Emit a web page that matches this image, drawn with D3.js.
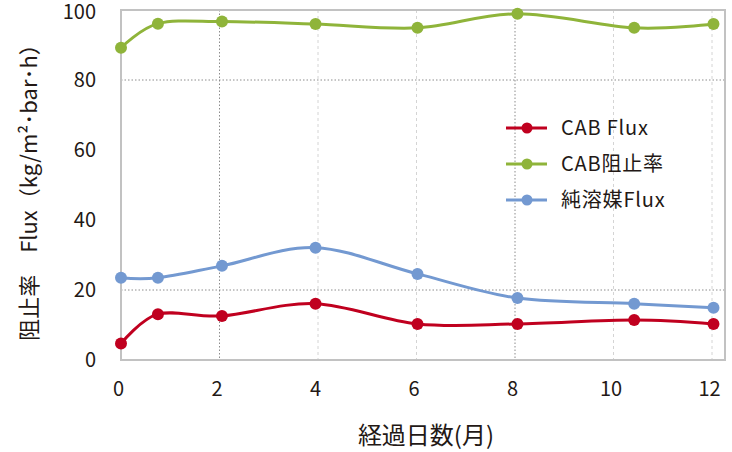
<!DOCTYPE html>
<html><head><meta charset="utf-8">
<script src="https://cdn.jsdelivr.net/npm/d3@7"></script>
<style>
html,body{margin:0;padding:0;background:#fff;}
svg{display:block;font-family:"Noto Sans CJK JP","Noto Sans",sans-serif;}
</style></head>
<body>
<svg id="chart" width="732" height="452"></svg>
<script>
// ---- data ----
const months = [0, 0.75, 2.05, 3.95, 6.02, 8.05, 10.42, 12.03];
const cabFlux = [4.7, 13.1, 12.6, 16.1, 10.3, 10.3, 11.4, 10.3];
const cabRejection = [89.2, 96.1, 96.7, 96.0, 94.9, 98.9, 94.9, 96.0];
const pureFlux = [23.5, 23.5, 26.9, 32.1, 24.6, 17.7, 16.1, 14.9];
const seriesNames = ["CAB Flux", "CAB阻止率", "純溶媒Flux"];
const xTicks = [0, 2, 4, 6, 8, 10, 12];
const yTicks = [0, 20, 40, 60, 80, 100];
const xTitle = "経過日数(月)";
const yTitle = "阻止率　Flux（kg/m²･bar･h）";

const colors = ["#c0001f", "#8fb43a", "#7399d1"];
const seriesValues = [cabFlux, cabRejection, pureFlux];

const svg = d3.select("#chart");
const plot = {left: 121, right: 725, top: 10, bottom: 360};
const x = d3.scaleLinear().domain([0, 12]).range([121, 712]);
const y = d3.scaleLinear().domain([0, 100]).range([360, 10]);

// gridlines
const g = svg.append("g");
[2, 8].forEach(v => g.append("line")
  .attr("x1", x(v)).attr("x2", x(v)).attr("y1", plot.top).attr("y2", plot.bottom)
  .attr("stroke", "#8c8c8c").attr("stroke-width", 1).attr("stroke-dasharray", "1.5,2"));
[4, 6, 10, 12].forEach(v => g.append("line")
  .attr("x1", x(v)).attr("x2", x(v)).attr("y1", plot.top).attr("y2", plot.bottom)
  .attr("stroke", "#d4d4d4").attr("stroke-width", 1).attr("stroke-dasharray", "3,3"));
[20, 80].forEach(v => g.append("line")
  .attr("x1", plot.left).attr("x2", plot.right).attr("y1", y(v)).attr("y2", y(v))
  .attr("stroke", "#8c8c8c").attr("stroke-width", 1).attr("stroke-dasharray", "1.5,2"));

// border
svg.append("rect").attr("x", plot.left).attr("y", plot.top)
  .attr("width", plot.right - plot.left).attr("height", plot.bottom - plot.top)
  .attr("fill", "none").attr("stroke", "#c2c2c2").attr("stroke-width", 2);

// axes labels via d3 axes (no lines)
const xAxis = svg.append("g").attr("transform", `translate(0,${plot.bottom})`)
  .call(d3.axisBottom(x).tickValues(xTicks).tickSize(0).tickPadding(22));
const yAxis = svg.append("g").attr("transform", `translate(${plot.left},0)`)
  .call(d3.axisLeft(y).tickValues(yTicks).tickSize(0).tickPadding(25));
[xAxis, yAxis].forEach(a => {
  a.select(".domain").remove();
  a.selectAll("text").attr("font-size", 20).attr("fill", "#231815")
    .attr("font-family", "'Noto Sans CJK JP', sans-serif");
});
xAxis.selectAll("text").attr("dx", -3);
yAxis.selectAll("text").filter(d => d === 100).attr("dy", "0.42em");

// titles
svg.append("text").attr("x", 426).attr("y", 444).attr("text-anchor", "middle")
  .attr("font-size", 24).attr("fill", "#231815").text(xTitle);
svg.append("text").attr("transform", "translate(37,187) rotate(-90)")
  .attr("text-anchor", "middle").attr("font-size", 22).attr("fill", "#231815").text(yTitle);

// lines
const line = d3.line().x(d => x(d[0])).y(d => y(d[1])).curve(d3.curveCatmullRom.alpha(0));
seriesValues.forEach((vals, i) => {
  const pts = months.map((m, j) => [m, vals[j]]);
  svg.append("path").attr("d", line(pts)).attr("fill", "none")
    .attr("stroke", colors[i]).attr("stroke-width", 3);
  svg.append("g").selectAll("circle").data(pts).join("circle")
    .attr("cx", d => x(d[0])).attr("cy", d => y(d[1])).attr("r", 6)
    .attr("fill", colors[i]);
});

// legend
const legY = [128, 164, 200];
seriesNames.forEach((name, i) => {
  const lg = svg.append("g").attr("transform", `translate(0,${legY[i]})`);
  lg.append("line").attr("x1", 506).attr("x2", 547).attr("y1", 0).attr("y2", 0)
    .attr("stroke", colors[i]).attr("stroke-width", 3);
  lg.append("circle").attr("cx", 527).attr("cy", 0).attr("r", 5.5).attr("fill", colors[i]);
  lg.append("text").attr("x", 561).attr("y", 0).attr("dy", "0.35em")
    .attr("font-size", 20).attr("letter-spacing", 0.8).attr("fill", "#231815").text(name);
});
</script>
</body></html>
